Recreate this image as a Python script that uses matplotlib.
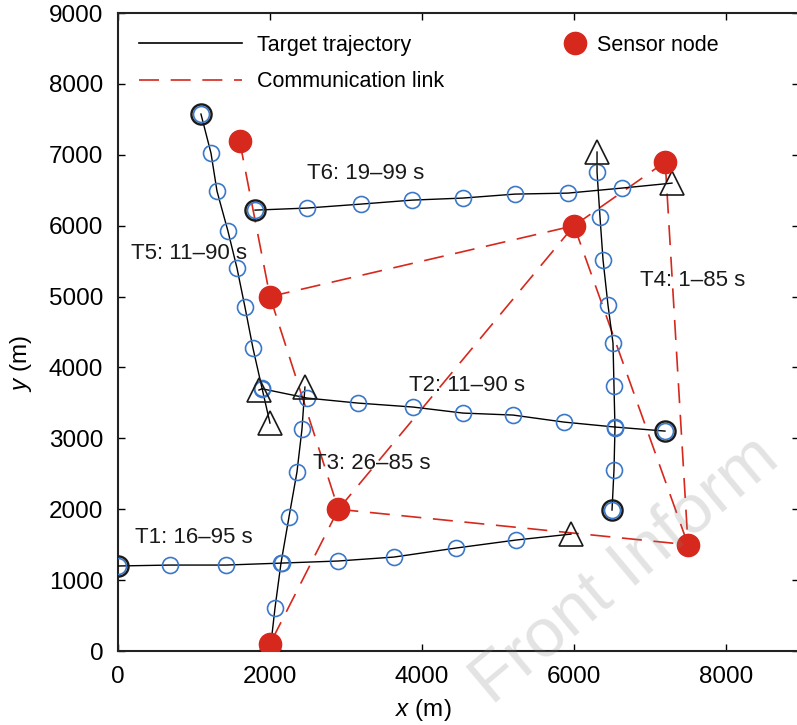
import matplotlib
matplotlib.use("Agg")
import matplotlib.pyplot as plt
from matplotlib.lines import Line2D

plt.rcParams['font.family'] = ['Liberation Sans', 'DejaVu Sans']
plt.rcParams['mathtext.fontset'] = 'custom'
plt.rcParams['mathtext.it'] = 'Liberation Sans:italic'
plt.rcParams['mathtext.rm'] = 'Liberation Sans'

# ---- trajectories: start point, sample points (circles), end point (triangle)
t1_x = [0, 684, 1421, 2157, 2895, 3632, 4447, 5237, 5960]
t1_y = [1200, 1213, 1213, 1241, 1270, 1326, 1453, 1566, 1650]

t2_x = [7197, 6539, 5868, 5197, 4539, 3882, 3158, 2487, 1895, 1855]
t2_y = [3103, 3160, 3230, 3329, 3357, 3442, 3498, 3569, 3700, 3682]

t3_x = [2000, 2066, 2145, 2250, 2355, 2421, 2460]
t3_y = [-20, 607, 1241, 1890, 2525, 3131, 3724]

t4_x = [6500, 6526, 6539, 6526, 6513, 6447, 6382, 6342, 6303, 6303]
t4_y = [1989, 2553, 3146, 3738, 4345, 4881, 5516, 6122, 6757, 7039]

t5_x = [1092, 1224, 1303, 1447, 1566, 1671, 1776, 1895, 2000]
t5_y = [7575, 7024, 6488, 5924, 5402, 4852, 4274, 3710, 3216]

t6_x = [1803, 2487, 3197, 3868, 4539, 5224, 5921, 6632, 7289]
t6_y = [6220, 6249, 6305, 6361, 6390, 6446, 6460, 6531, 6601]

trajectories = [(t1_x, t1_y), (t2_x, t2_y), (t3_x, t3_y),
                (t4_x, t4_y), (t5_x, t5_y), (t6_x, t6_y)]

labels = ["T1: 16\u201395 s", "T2: 11\u201390 s", "T3: 26\u201385 s",
          "T4: 1\u201385 s", "T5: 11\u201390 s", "T6: 19\u201399 s"]
label_x = [224, 3829, 2566, 6868, 171, 2487]
label_y = [1608, 3752, 2652, 5233, 5614, 6742]

# ---- sensor nodes
node_names = ["A", "B", "C", "D", "E", "F", "G"]
node_x = [1600, 2000, 6000, 2900, 2000, 7500, 7200]
node_y = [7200, 5000, 6000, 2000, 100, 1500, 6900]

# ---- communication links (pairs of node names)
links = [("A", "B"), ("B", "C"), ("B", "D"), ("D", "E"), ("D", "C"),
         ("D", "F"), ("C", "G"), ("C", "F"), ("G", "F")]

BLUE = '#3b78c9'
RED = '#d6281c'

fig = plt.figure(figsize=(7.97, 7.25), dpi=100)
ax = fig.add_axes([0.148, 0.102, 0.8545, 0.880])

idx = {n: i for i, n in enumerate(node_names)}
for a, b in links:
    ax.plot([node_x[idx[a]], node_x[idx[b]]], [node_y[idx[a]], node_y[idx[b]]],
            color=RED, lw=1.2, dashes=(12, 7), zorder=2)

for xs, ys in trajectories:
    ax.plot(xs, ys, color='black', lw=1.0, zorder=3)
    ax.plot(xs[:-1], ys[:-1], ls='none', marker='o', ms=11.5, mfc='none',
            mec=BLUE, mew=1.2, zorder=4)
    ax.plot(xs[0], ys[0], ls='none', marker='o', ms=14.5, mfc='none',
            mec='#1a1a1a', mew=1.7, zorder=5)
    ax.plot(xs[-1], ys[-1], ls='none', marker='^', ms=17, mfc='none',
            mec='#1a1a1a', mew=1.2, zorder=5)

ax.plot(node_x, node_y, ls='none', marker='o', ms=16, color=RED, zorder=6)

for t, x, y in zip(labels, label_x, label_y):
    ax.text(x, y, t, fontsize=16, ha='left', va='center', color='#1a1a1a', zorder=7)

ax.set_xlim(0, 8960)
ax.set_ylim(0, 9000)
ax.set_xticks([0, 2000, 4000, 6000, 8000])
ax.set_yticks(range(0, 9001, 1000))
ax.tick_params(direction='in', top=True, right=True, length=5, width=1.0,
               labelsize=17.5, pad=10.5)
for s in ax.spines.values():
    s.set_linewidth(1.5)
    s.set_color('#222222')
ax.set_xlabel('$x$ (m)', fontsize=17.5)
ax.set_ylabel('$y$ (m)', fontsize=17.5)
ax.xaxis.set_label_coords(0.448, -0.072)
ax.yaxis.set_label_coords(-0.123, 0.45)

h1 = [Line2D([], [], color='black', lw=1.2),
      Line2D([], [], color=RED, lw=1.2, dashes=(12, 7))]
leg1 = ax.legend(h1, ['Target trajectory', 'Communication link'], loc='upper left',
                 bbox_to_anchor=(0.0, 1.0), frameon=False, fontsize=15.5,
                 handlelength=4.75, handletextpad=0.7, labelspacing=0.73,
                 borderaxespad=0.6)
ax.add_artist(leg1)
h2 = [Line2D([], [], ls='none', marker='o', ms=16, color=RED)]
ax.legend(h2, ['Sensor node'], loc='upper left', bbox_to_anchor=(0.623, 1.0),
          frameon=False, fontsize=15.5, handlelength=1.0, handletextpad=0.55,
          borderaxespad=0.6)

fig.text(0.784, 0.214, 'Front Inform', fontsize=50, color='gray', alpha=0.22,
         rotation=40, ha='center', va='center', zorder=10)

fig.savefig('out.png', dpi=100)
